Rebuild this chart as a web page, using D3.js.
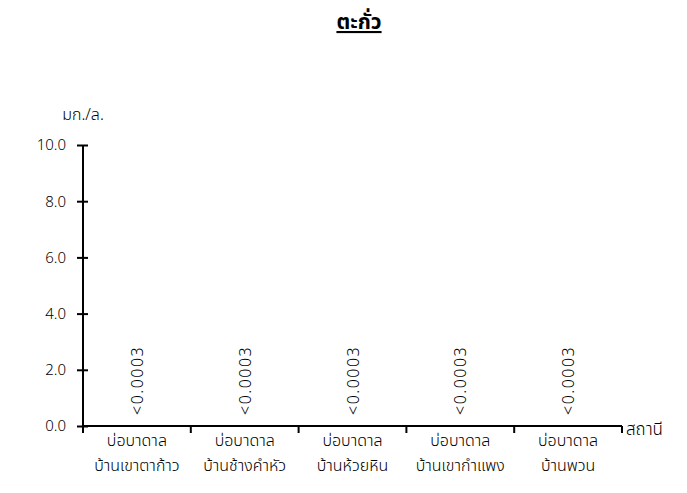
<!DOCTYPE html>
<html>
<head>
<meta charset="utf-8">
<script src="https://cdn.jsdelivr.net/npm/d3@7"></script>
<style>
body { margin: 0; background: #fff; }
text { font-family: "Noto Sans Thai", "Noto Sans", "DejaVu Sans", sans-serif; fill: #000; }
</style>
</head>
<body>
<svg width="687" height="493"></svg>
<script>
var stationLine1 = ["บ่อบาดาล", "บ่อบาดาล", "บ่อบาดาล", "บ่อบาดาล", "บ่อบาดาล"];
var stationLine2 = ["บ้านเขาตาก้าว", "บ้านช้างคำหัว", "บ้านห้วยหิน", "บ้านเขากำแพง", "บ้านพวน"];
var values = [0, 0, 0, 0, 0];
var valueLabels = ["<0.0003", "<0.0003", "<0.0003", "<0.0003", "<0.0003"];
var yTicks = [0, 2, 4, 6, 8, 10];

var svg = d3.select("svg");
var mLeft = 83, mRight = 622, mTop = 145, mBottom = 426;

var x = d3.scaleBand()
	.domain(d3.range(stationLine2.length))
	.range([mLeft, mRight]);

var y = d3.scaleLinear()
	.domain([0, 10])
	.range([mBottom, mTop]);

// title
svg.append("text")
	.attr("x", 359)
	.attr("y", 29)
	.attr("text-anchor", "middle")
	.style("font-size", "21px")
	.style("font-weight", "bold")
	.style("text-decoration", "underline")
	.text("ตะกั่ว");

// y axis
var yAxis = svg.append("g")
	.attr("transform", "translate(" + mLeft + ",0)")
	.call(d3.axisLeft(y).tickValues(yTicks).tickSize(6).tickFormat(d3.format(".1f")));
yAxis.select(".domain").attr("stroke-width", 2).attr("d", "M0," + mTop + "V" + mBottom);
yAxis.selectAll(".tick line").attr("x1", 5).attr("x2", -6).attr("stroke-width", 2);
yAxis.selectAll(".tick text")
	.attr("x", -17)
	.style("font-size", "15px")
	.style("font-weight", "300")
	.style("font-family", "\"Noto Sans\", sans-serif");

svg.append("text")
	.attr("x", 83)
	.attr("y", 120)
	.attr("text-anchor", "middle")
	.style("font-size", "16px")
	.style("font-weight", "300")
	.text("มก./ล.");

// x axis
var xa = svg.append("g");
xa.append("line")
	.attr("x1", mLeft).attr("x2", mRight)
	.attr("y1", mBottom).attr("y2", mBottom)
	.attr("stroke", "#000").attr("stroke-width", 2);
xa.selectAll(".sep")
	.data(d3.range(stationLine2.length + 1))
	.join("line")
	.attr("x1", function(d) { return d < stationLine2.length ? x(d) : x.range()[1]; })
	.attr("x2", function(d) { return d < stationLine2.length ? x(d) : x.range()[1]; })
	.attr("y1", mBottom).attr("y2", mBottom + 7)
	.attr("stroke", "#000").attr("stroke-width", 2);

xa.selectAll(".l1")
	.data(stationLine1)
	.join("text")
	.attr("x", function(d, i) { return x(i) + x.bandwidth() / 2; })
	.attr("y", 446)
	.attr("text-anchor", "middle")
	.style("font-size", "16px")
	.style("font-weight", "300")
	.text(function(d) { return d; });

xa.selectAll(".l2")
	.data(stationLine2)
	.join("text")
	.attr("x", function(d, i) { return x(i) + x.bandwidth() / 2; })
	.attr("y", 471)
	.attr("text-anchor", "middle")
	.style("font-size", "16px")
	.style("font-weight", "300")
	.text(function(d) { return d; });

svg.append("text")
	.attr("x", 626)
	.attr("y", 435)
	.style("font-size", "17px")
	.style("font-weight", "300")
	.text("สถานี");

// bars (zero height) and value labels
svg.selectAll(".bar")
	.data(values)
	.join("rect")
	.attr("x", function(d, i) { return x(i) + x.bandwidth() * 0.3; })
	.attr("width", x.bandwidth() * 0.4)
	.attr("y", function(d) { return y(d); })
	.attr("height", function(d) { return mBottom - y(d); })
	.attr("fill", "#808080");

svg.selectAll(".vlab")
	.data(values)
	.join("text")
	.attr("transform", function(d, i) {
		return "translate(" + (x(i) + x.bandwidth() / 2 + 6) + "," + (y(d) - 11) + ") rotate(-90)";
	})
	.style("font-size", "16px")
	.style("font-weight", "300")
	.style("letter-spacing", "1.5px")
	.style("font-family", "\"Noto Sans\", sans-serif")
	.text(function(d, i) { return valueLabels[i]; });
</script>
</body>
</html>
